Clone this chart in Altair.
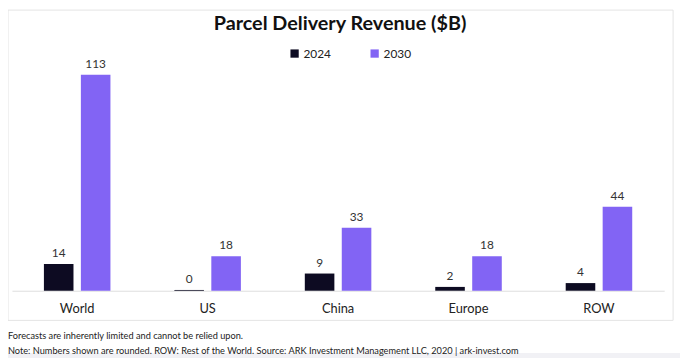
import altair as alt
import pandas as pd

regions = ["World", "US", "China", "Europe", "ROW"]
years = ["2024", "2030"]
rev_2024 = [14, 0.4, 9, 2, 4]
rev_2030 = [113, 18, 33, 18, 44]
colors = ["#0d0b22", "#8264f4"]
title_text = "Parcel Delivery Revenue ($B)"
footer_1 = "Forecasts are inherently limited and cannot be relied upon."
footer_2 = "Note: Numbers shown are rounded. ROW: Rest of the World. Source: ARK Investment Management LLC, 2020  |  ark-invest.com"

rows = []
for r, a, b in zip(regions, rev_2024, rev_2030):
    rows.append({"region": r, "year": "2024", "value": a})
    rows.append({"region": r, "year": "2030", "value": b})
df = pd.DataFrame(rows)

FONT = "Lato"

x = alt.X("region:N", sort=regions, title=None,
          scale=alt.Scale(paddingInner=0.49, paddingOuter=0.245),
          axis=alt.Axis(labelAngle=0, ticks=False, labelPadding=12, labelFontSize=13,
                        labelColor="#222", labelFont=FONT, domainColor="#dddddd"))
xo = alt.XOffset("year:N", scale=alt.Scale(paddingInner=0.2))
y = alt.Y("value:Q", scale=alt.Scale(domain=[0, 120]), axis=None)

base = alt.Chart(df)

bars = base.mark_bar().encode(
    x=x, xOffset=xo, y=y,
    color=alt.Color("year:N", scale=alt.Scale(domain=years, range=colors),
                    legend=alt.Legend(title=None, orient="none", direction="horizontal",
                                      legendX=280, legendY=-14, symbolType="square",
                                      symbolSize=70, labelFontSize=12, labelFont=FONT,
                                      labelColor="#222", columnPadding=38, padding=0,
                                      symbolStrokeWidth=0, labelOffset=3)),
)

labels = base.mark_text(baseline="bottom", dy=-4, fontSize=12, font=FONT, color="#333").encode(
    x=x, xOffset=xo, y=y, text=alt.Text("value:Q", format=".0f"),
)

one = pd.DataFrame({"k": [0]})

frame = alt.Chart(one).mark_rect(
    fill=None, stroke="#e4e4e4", strokeWidth=1
).encode(x=alt.value(-4), x2=alt.value(669), y=alt.value(-52), y2=alt.value(262))

strip = alt.Chart(one).mark_rect(
    fill="#f1f1f5"
).encode(x=alt.value(-4), x2=alt.value(676), y=alt.value(295), y2=alt.value(300))

title = alt.Chart(one).mark_text(
    align="center", baseline="middle", fontSize=20, font=FONT, fontWeight="bold", color="#111"
).encode(x=alt.value(332), y=alt.value(-38), text=alt.value(title_text))

foot1 = alt.Chart(one).mark_text(
    align="left", baseline="middle", fontSize=9.3, font=FONT, color="#222"
).encode(x=alt.value(-4), y=alt.value(278), text=alt.value(footer_1))

foot2 = alt.Chart(one).mark_text(
    align="left", baseline="middle", fontSize=9.3, font=FONT, color="#222"
).encode(x=alt.value(-4), y=alt.value(293), text=alt.value(footer_2))

chart = alt.layer(frame, strip, title, bars, labels, foot1, foot2).properties(
    width=660, height=232,
    autosize=alt.AutoSizeParams(type="none"),
    padding={"left": 4, "top": 52, "right": 16, "bottom": 68},
    background="white",
).configure_view(strokeWidth=0, stroke="transparent")

chart.save("out.html", embed_options={"renderer": "svg", "actions": False})
